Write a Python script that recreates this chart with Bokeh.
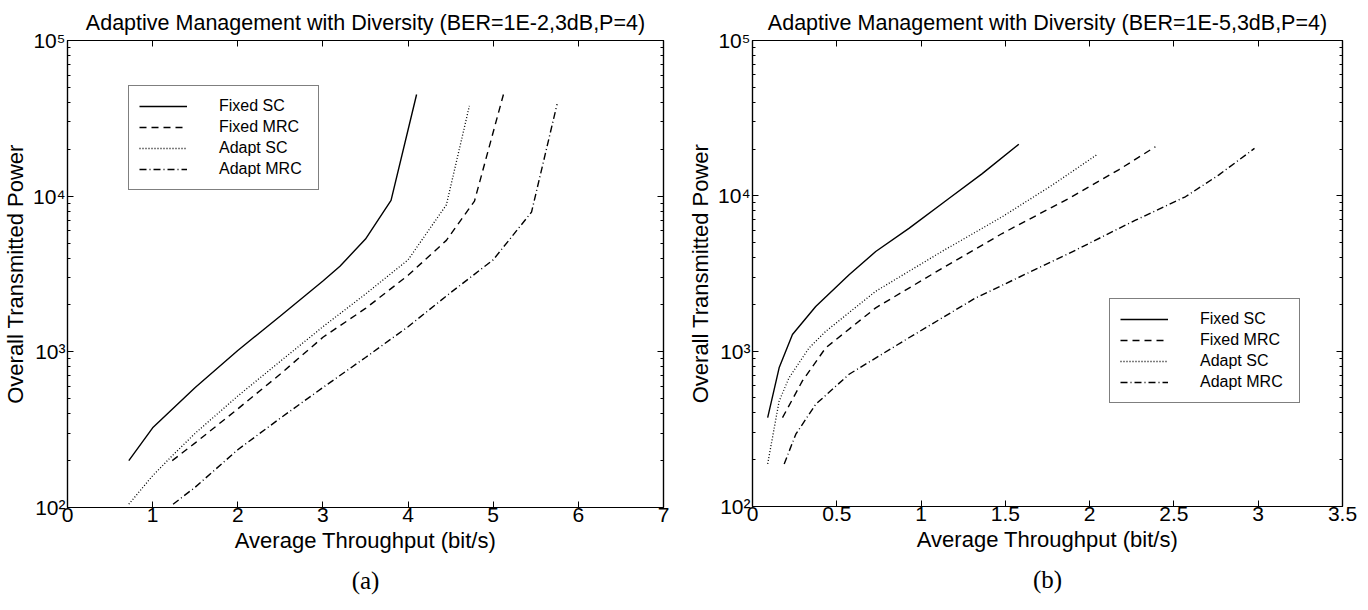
from bokeh.plotting import figure
from bokeh.models import (FixedTicker, LinearAxis, LogAxis, Legend, LegendItem,
                          Range1d, Title)
from bokeh.layouts import row
from bokeh.embed import file_html
from bokeh.resources import INLINE

# ---------------- data: panel (a) BER=1E-2 ----------------
a_fixed_sc_x = [0.72, 1.0, 1.5, 2.0, 2.5, 3.0, 3.2, 3.5, 3.8, 4.1]
a_fixed_sc_y = [200, 325, 590, 1020, 1700, 2850, 3550, 5300, 9400, 45000]
a_fixed_mrc_x = [1.23, 1.5, 2.0, 2.5, 3.0, 3.5, 4.0, 4.45, 4.78, 5.12]
a_fixed_mrc_y = [200, 260, 430, 720, 1240, 1900, 3100, 5200, 9300, 45000]
a_adapt_sc_x = [0.72, 1.0, 1.23, 1.5, 2.0, 2.5, 3.0, 3.5, 4.0, 4.45, 4.72]
a_adapt_sc_y = [105, 160, 215, 300, 520, 870, 1450, 2350, 3900, 8800, 38000]
a_adapt_mrc_x = [1.24, 1.5, 2.0, 2.5, 3.0, 3.5, 4.0, 4.5, 5.0, 5.45, 5.75]
a_adapt_mrc_y = [105, 135, 235, 375, 590, 920, 1450, 2400, 3900, 7900, 39000]

# ---------------- data: panel (b) BER=1E-5 ----------------
b_fixed_sc_x = [0.09, 0.158, 0.237, 0.375, 0.573, 0.731, 0.928, 1.165, 1.363, 1.58]
b_fixed_sc_y = [373, 781, 1280, 1940, 3100, 4380, 6170, 9620, 13900, 21500]
b_fixed_mrc_x = [0.178, 0.296, 0.434, 0.731, 1.126, 1.481, 1.876, 2.172, 2.39]
b_fixed_mrc_y = [373, 643, 1050, 1900, 3420, 5720, 9620, 14700, 20700]
b_adapt_sc_x = [0.09, 0.158, 0.217, 0.336, 0.434, 0.731, 1.126, 1.481, 1.777, 2.04]
b_adapt_sc_y = [188, 477, 675, 1050, 1340, 2430, 4400, 7330, 11700, 18300]
b_adapt_mrc_x = [0.188, 0.257, 0.375, 0.573, 0.928, 1.323, 1.876, 2.272, 2.568, 2.765, 2.978]
b_adapt_mrc_y = [188, 292, 455, 710, 1220, 2200, 4250, 6970, 9860, 13600, 20200]

series_names = ["Fixed SC", "Fixed MRC", "Adapt SC", "Adapt MRC"]
titles = ["Adaptive Management with Diversity (BER=1E-2,3dB,P=4)",
          "Adaptive Management with Diversity (BER=1E-5,3dB,P=4)"]
x_label = "Average Throughput (bit/s)"
y_label = "Overall Transmitted Power"
panel_tags = ["(a)", "(b)"]

a_xticks = [0, 1, 2, 3, 4, 5, 6, 7]
b_xticks = [0, 0.5, 1, 1.5, 2, 2.5, 3, 3.5]
b_xtick_labels = ["0", "0.5", "1", "1.5", "2", "2.5", "3", "3.5"]
y_major = [100, 1000, 10000, 100000]
y_major_labels = ["10\u00b2", "10\u00b3", "10\u2074", "10\u2075"]

FONT = "Liberation Sans"
styles = [dict(line_dash="solid", line_width=1.4),
          dict(line_dash="7 5", line_width=1.4),
          dict(line_dash="1 2", line_width=1.3),
          dict(line_dash="7 3 1 3", line_width=1.4)]

TOTAL_H = 606


def make_panel(title, xmax, xticks, xlabels, series, legend_loc,
               border_left, frame_w, border_right, border_top, frame_h, tag):
    p = figure(width=border_left + frame_w + border_right, height=TOTAL_H,
               frame_width=frame_w, frame_height=frame_h,
               x_range=Range1d(0, xmax), y_range=Range1d(100, 100000),
               y_axis_type="log", output_backend="svg", toolbar_location=None,
               min_border_left=border_left, min_border_right=border_right,
               min_border_top=border_top,
               min_border_bottom=TOTAL_H - border_top - frame_h)
    p.title.text = title
    p.title.text_font = FONT
    p.title.text_font_size = "21.5px"
    p.title.text_font_style = "normal"
    p.title.text_color = "black"
    p.title.align = "center"
    p.title.standoff = 11
    p.grid.visible = False
    p.outline_line_color = "black"
    p.outline_line_width = 1.2
    p.background_fill_color = "white"
    p.border_fill_color = "white"

    yt = FixedTicker(ticks=y_major,
                     minor_ticks=[m * d for d in [100, 1000, 10000] for m in range(2, 10)])
    xt = FixedTicker(ticks=xticks)

    xa = p.xaxis[0]
    xa.ticker = xt
    xa.major_label_overrides = {t: l for t, l in zip(xticks, xlabels)}
    xa.axis_label = x_label
    ya = p.yaxis[0]
    ya.ticker = yt
    ya.major_label_overrides = {t: l for t, l in zip(y_major, y_major_labels)}
    ya.axis_label = y_label

    for ax in (xa, ya):
        ax.axis_line_color = "black"
        ax.axis_line_width = 1.2
        ax.major_tick_in = 6
        ax.major_tick_out = 0
        ax.minor_tick_in = 3
        ax.minor_tick_out = 0
        ax.major_label_text_font = FONT
        ax.major_label_text_font_size = "21px"
        ax.major_label_text_color = "black"
        ax.axis_label_text_font = FONT
        ax.axis_label_text_font_size = "22px"
        ax.axis_label_text_font_style = "normal"
        ax.axis_label_text_color = "black"
    xa.minor_tick_line_color = None
    xa.major_label_standoff = 0
    xa.axis_label_standoff = 3
    ya.major_label_standoff = 2
    ya.axis_label_standoff = 2

    top = LinearAxis(ticker=xt, major_label_text_font_size="1px",
                     major_label_text_alpha=0, major_label_standoff=0,
                     major_tick_in=6, major_tick_out=0, minor_tick_line_color=None,
                     axis_line_color="black", axis_line_width=1.2)
    right = LogAxis(ticker=yt, major_label_text_font_size="1px",
                    major_label_text_alpha=0, major_label_standoff=0,
                    major_tick_in=6, major_tick_out=0, minor_tick_in=3,
                    minor_tick_out=0, axis_line_color="black", axis_line_width=1.2)
    p.add_layout(top, "above")
    p.add_layout(right, "right")

    items = []
    for (xs, ys), name, st in zip(series, series_names, styles):
        r = p.line(xs, ys, line_color="black", **st)
        items.append(LegendItem(label=name, renderers=[r]))
    leg = Legend(items=items, location=legend_loc,
                 label_text_font=FONT, label_text_font_size="16px",
                 label_text_color="black",
                 glyph_width=48, glyph_height=20, label_height=20,
                 label_standoff=32, label_width=89, padding=10, spacing=1,
                 margin=0, border_line_color="black", border_line_width=1.2,
                 background_fill_color="white", background_fill_alpha=1.0)
    p.add_layout(leg, "center")

    p.add_layout(Title(text=tag, align="center", text_font="Liberation Serif",
                       text_font_size="25px", text_font_style="normal",
                       text_color="black", standoff=18), "below")
    return p


pa = make_panel(titles[0], 7, a_xticks, [str(t) for t in a_xticks],
                [(a_fixed_sc_x, a_fixed_sc_y), (a_fixed_mrc_x, a_fixed_mrc_y),
                 (a_adapt_sc_x, a_adapt_sc_y), (a_adapt_mrc_x, a_adapt_mrc_y)],
                (61, 317), 66, 596, 22, 37, 467, panel_tags[0])
pb = make_panel(titles[1], 3.5, b_xticks, b_xtick_labels,
                [(b_fixed_sc_x, b_fixed_sc_y), (b_fixed_mrc_x, b_fixed_mrc_y),
                 (b_adapt_sc_x, b_adapt_sc_y), (b_adapt_mrc_x, b_adapt_mrc_y)],
                (357, 103), 66, 590, 20, 40, 466, panel_tags[1])

layout = row(pa, pb, spacing=0)
open("out.html", "w").write(file_html(layout, INLINE))
